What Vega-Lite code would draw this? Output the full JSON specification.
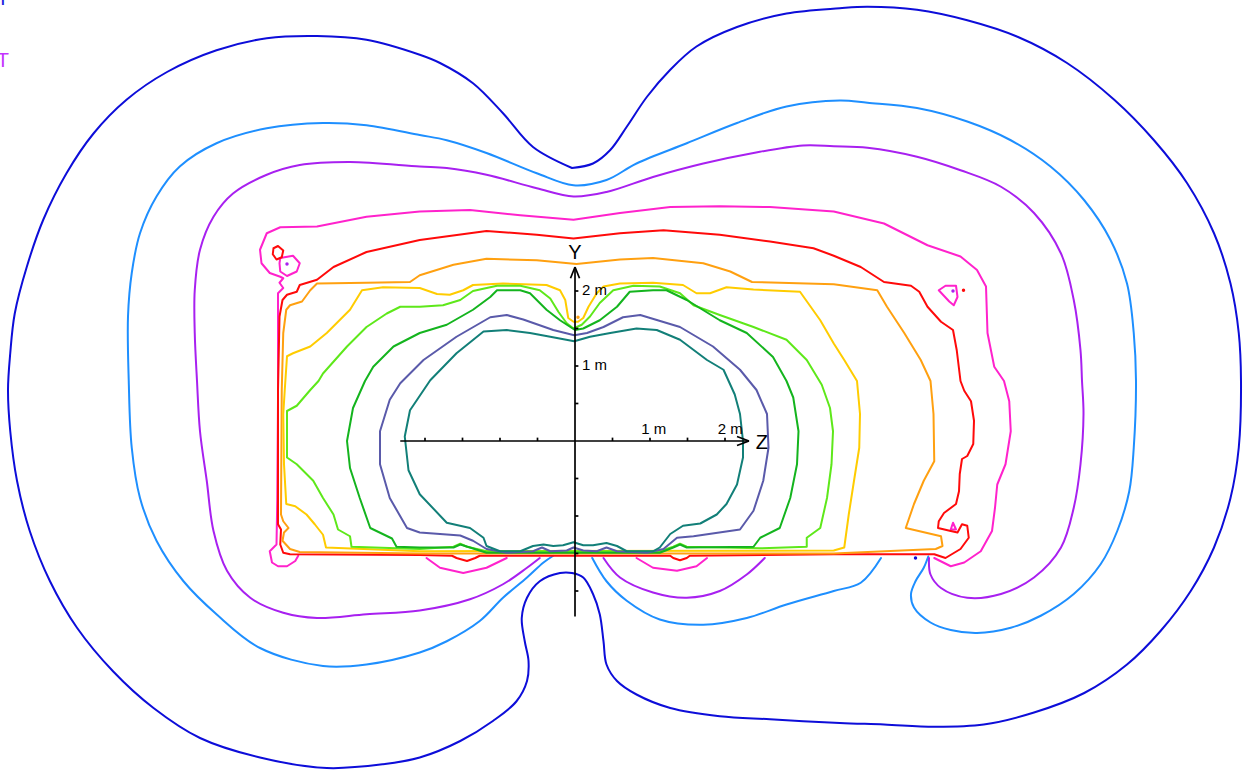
{
  "$schema": "https://vega.github.io/schema/vega-lite/v6.json",
  "width": 1254,
  "height": 771,
  "padding": 0,
  "autosize": {"type": "none"},
  "background": "white",
  "config": {"view": {"stroke": null}},
  "datasets": {
    "lines": [
      {"s":"b","i":1,"z":-0.04,"y":3.64},{"s":"b","i":2,"z":-0.56,"y":3.92},{"s":"b","i":3,"z":-0.96,"y":4.37},{"s":"b","i":4,"z":-1.36,"y":4.77},{"s":"b","i":5,"z":-1.80,"y":5.04},{"s":"b","i":6,"z":-2.07,"y":5.15},{"s":"b","i":7,"z":-2.78,"y":5.35},{"s":"b","i":8,"z":-3.44,"y":5.40},{"s":"b","i":9,"z":-4.11,"y":5.37},{"s":"b","i":10,"z":-4.78,"y":5.21},{"s":"b","i":11,"z":-5.44,"y":4.92},{"s":"b","i":12,"z":-5.98,"y":4.55},{"s":"b","i":13,"z":-6.42,"y":4.10},{"s":"b","i":14,"z":-6.78,"y":3.57},{"s":"b","i":15,"z":-7.09,"y":2.95},{"s":"b","i":16,"z":-7.31,"y":2.32},{"s":"b","i":17,"z":-7.47,"y":1.70},{"s":"b","i":18,"z":-7.53,"y":1.17},{"s":"b","i":19,"z":-7.56,"y":0.68},{"s":"b","i":20,"z":-7.53,"y":0.13},{"s":"b","i":21,"z":-7.44,"y":-0.53},{"s":"b","i":22,"z":-7.27,"y":-1.20},{"s":"b","i":23,"z":-7.00,"y":-1.87},{"s":"b","i":24,"z":-6.64,"y":-2.49},{"s":"b","i":25,"z":-6.16,"y":-3.07},{"s":"b","i":26,"z":-5.62,"y":-3.56},{"s":"b","i":27,"z":-5.00,"y":-3.96},{"s":"b","i":28,"z":-4.20,"y":-4.22},{"s":"b","i":29,"z":-3.31,"y":-4.36},{"s":"b","i":30,"z":-2.56,"y":-4.31},{"s":"b","i":31,"z":-2.07,"y":-4.22},{"s":"b","i":32,"z":-1.53,"y":-4.00},{"s":"b","i":33,"z":-1.09,"y":-3.73},{"s":"b","i":34,"z":-0.78,"y":-3.47},{"s":"b","i":35,"z":-0.64,"y":-3.20},{"s":"b","i":36,"z":-0.62,"y":-2.93},{"s":"b","i":37,"z":-0.67,"y":-2.67},{"s":"b","i":38,"z":-0.71,"y":-2.36},{"s":"b","i":39,"z":-0.64,"y":-2.09},{"s":"b","i":40,"z":-0.47,"y":-1.87},{"s":"b","i":41,"z":-0.20,"y":-1.76},{"s":"b","i":42,"z":-0.04,"y":-1.76},{"s":"b","i":43,"z":0.11,"y":-1.82},{"s":"b","i":44,"z":0.24,"y":-2.04},{"s":"b","i":45,"z":0.33,"y":-2.31},{"s":"b","i":46,"z":0.38,"y":-2.67},{"s":"b","i":47,"z":0.42,"y":-2.98},{"s":"b","i":48,"z":0.56,"y":-3.20},{"s":"b","i":49,"z":0.82,"y":-3.38},{"s":"b","i":50,"z":1.27,"y":-3.56},{"s":"b","i":51,"z":1.93,"y":-3.67},{"s":"b","i":52,"z":2.60,"y":-3.71},{"s":"b","i":53,"z":3.53,"y":-3.76},{"s":"b","i":54,"z":4.12,"y":-3.78},{"s":"b","i":55,"z":4.79,"y":-3.81},{"s":"b","i":56,"z":5.45,"y":-3.78},{"s":"b","i":57,"z":6.12,"y":-3.62},{"s":"b","i":58,"z":6.79,"y":-3.36},{"s":"b","i":59,"z":7.36,"y":-2.98},{"s":"b","i":60,"z":7.81,"y":-2.53},{"s":"b","i":61,"z":8.21,"y":-2.00},{"s":"b","i":62,"z":8.52,"y":-1.42},{"s":"b","i":63,"z":8.74,"y":-0.76},{"s":"b","i":64,"z":8.85,"y":-0.09},{"s":"b","i":65,"z":8.88,"y":0.80},{"s":"b","i":66,"z":8.85,"y":1.44},{"s":"b","i":67,"z":8.74,"y":2.10},{"s":"b","i":68,"z":8.52,"y":2.77},{"s":"b","i":69,"z":8.16,"y":3.44},{"s":"b","i":70,"z":7.72,"y":4.01},{"s":"b","i":71,"z":7.19,"y":4.55},{"s":"b","i":72,"z":6.56,"y":5.04},{"s":"b","i":73,"z":5.90,"y":5.39},{"s":"b","i":74,"z":5.23,"y":5.61},{"s":"b","i":75,"z":4.56,"y":5.75},{"s":"b","i":76,"z":3.90,"y":5.79},{"s":"b","i":77,"z":3.53,"y":5.77},{"s":"b","i":78,"z":2.82,"y":5.70},{"s":"b","i":79,"z":2.16,"y":5.52},{"s":"b","i":80,"z":1.62,"y":5.26},{"s":"b","i":81,"z":1.27,"y":4.95},{"s":"b","i":82,"z":0.96,"y":4.59},{"s":"b","i":83,"z":0.69,"y":4.19},{"s":"b","i":84,"z":0.47,"y":3.88},{"s":"b","i":85,"z":0.24,"y":3.70},{"s":"b","i":86,"z":-0.04,"y":3.64},

      {"s":"lbA","i":1,"z":-0.29,"y":-1.53},{"s":"lbA","i":2,"z":-0.42,"y":-1.62},{"s":"lbA","i":3,"z":-0.64,"y":-1.82},{"s":"lbA","i":4,"z":-0.96,"y":-2.09},{"s":"lbA","i":5,"z":-1.27,"y":-2.40},{"s":"lbA","i":6,"z":-1.71,"y":-2.67},{"s":"lbA","i":7,"z":-2.07,"y":-2.82},{"s":"lbA","i":8,"z":-2.78,"y":-2.98},{"s":"lbA","i":9,"z":-3.36,"y":-3.00},{"s":"lbA","i":10,"z":-4.20,"y":-2.76},{"s":"lbA","i":11,"z":-4.78,"y":-2.31},{"s":"lbA","i":12,"z":-5.22,"y":-1.87},{"s":"lbA","i":13,"z":-5.58,"y":-1.33},{"s":"lbA","i":14,"z":-5.80,"y":-0.76},{"s":"lbA","i":15,"z":-5.91,"y":-0.09},{"s":"lbA","i":16,"z":-5.95,"y":0.80},{"s":"lbA","i":17,"z":-5.96,"y":1.66},{"s":"lbA","i":18,"z":-5.91,"y":2.24},{"s":"lbA","i":19,"z":-5.80,"y":2.77},{"s":"lbA","i":20,"z":-5.58,"y":3.26},{"s":"lbA","i":21,"z":-5.27,"y":3.66},{"s":"lbA","i":22,"z":-4.78,"y":3.97},{"s":"lbA","i":23,"z":-4.11,"y":4.17},{"s":"lbA","i":24,"z":-3.36,"y":4.24},{"s":"lbA","i":25,"z":-2.78,"y":4.21},{"s":"lbA","i":26,"z":-2.07,"y":4.08},{"s":"lbA","i":27,"z":-1.71,"y":4.01},{"s":"lbA","i":28,"z":-1.18,"y":3.84},{"s":"lbA","i":29,"z":-0.51,"y":3.57},{"s":"lbA","i":30,"z":-0.02,"y":3.41},{"s":"lbA","i":31,"z":0.42,"y":3.48},{"s":"lbA","i":32,"z":0.82,"y":3.70},{"s":"lbA","i":33,"z":1.49,"y":3.97},{"s":"lbA","i":34,"z":2.16,"y":4.24},{"s":"lbA","i":35,"z":2.82,"y":4.46},{"s":"lbA","i":36,"z":3.53,"y":4.54},{"s":"lbA","i":37,"z":3.90,"y":4.51},{"s":"lbA","i":38,"z":4.56,"y":4.44},{"s":"lbA","i":39,"z":5.23,"y":4.26},{"s":"lbA","i":40,"z":5.81,"y":4.01},{"s":"lbA","i":41,"z":6.34,"y":3.66},{"s":"lbA","i":42,"z":6.79,"y":3.21},{"s":"lbA","i":43,"z":7.14,"y":2.68},{"s":"lbA","i":44,"z":7.36,"y":2.10},{"s":"lbA","i":45,"z":7.45,"y":1.44},{"s":"lbA","i":46,"z":7.48,"y":0.80},{"s":"lbA","i":47,"z":7.45,"y":-0.09},{"s":"lbA","i":48,"z":7.39,"y":-0.67},{"s":"lbA","i":49,"z":7.23,"y":-1.20},{"s":"lbA","i":50,"z":7.01,"y":-1.64},{"s":"lbA","i":51,"z":6.65,"y":-2.04},{"s":"lbA","i":52,"z":6.21,"y":-2.33},{"s":"lbA","i":53,"z":5.81,"y":-2.49},{"s":"lbA","i":54,"z":5.36,"y":-2.56},{"s":"lbA","i":55,"z":5.01,"y":-2.52},{"s":"lbA","i":56,"z":4.74,"y":-2.42},{"s":"lbA","i":57,"z":4.52,"y":-2.22},{"s":"lbA","i":58,"z":4.48,"y":-2.04},{"s":"lbA","i":59,"z":4.54,"y":-1.87},{"s":"lbA","i":60,"z":4.65,"y":-1.69},{"s":"lbA","i":61,"z":4.71,"y":-1.54},

      {"s":"lbB","i":1,"z":0.23,"y":-1.56},{"s":"lbB","i":2,"z":0.42,"y":-1.87},{"s":"lbB","i":3,"z":0.69,"y":-2.13},{"s":"lbB","i":4,"z":1.13,"y":-2.38},{"s":"lbB","i":5,"z":1.71,"y":-2.45},{"s":"lbB","i":6,"z":2.29,"y":-2.36},{"s":"lbB","i":7,"z":2.82,"y":-2.18},{"s":"lbB","i":8,"z":3.45,"y":-2.00},{"s":"lbB","i":9,"z":3.81,"y":-1.89},{"s":"lbB","i":10,"z":4.08,"y":-1.56},

      {"s":"pA","i":1,"z":-0.47,"y":-1.56},{"s":"pA","i":2,"z":-0.64,"y":-1.69},{"s":"pA","i":3,"z":-0.96,"y":-1.91},{"s":"pA","i":4,"z":-1.40,"y":-2.11},{"s":"pA","i":5,"z":-2.07,"y":-2.26},{"s":"pA","i":6,"z":-2.78,"y":-2.31},{"s":"pA","i":7,"z":-3.44,"y":-2.36},{"s":"pA","i":8,"z":-3.89,"y":-2.29},{"s":"pA","i":9,"z":-4.33,"y":-2.09},{"s":"pA","i":10,"z":-4.64,"y":-1.73},{"s":"pA","i":11,"z":-4.82,"y":-1.20},{"s":"pA","i":12,"z":-4.91,"y":-0.53},{"s":"pA","i":13,"z":-5.00,"y":0.13},{"s":"pA","i":14,"z":-5.04,"y":0.80},{"s":"pA","i":15,"z":-5.07,"y":1.44},{"s":"pA","i":16,"z":-5.07,"y":2.01},{"s":"pA","i":17,"z":-5.00,"y":2.55},{"s":"pA","i":18,"z":-4.82,"y":2.99},{"s":"pA","i":19,"z":-4.56,"y":3.30},{"s":"pA","i":20,"z":-4.11,"y":3.55},{"s":"pA","i":21,"z":-3.67,"y":3.68},{"s":"pA","i":22,"z":-3.00,"y":3.72},{"s":"pA","i":23,"z":-2.07,"y":3.66},{"s":"pA","i":24,"z":-1.71,"y":3.64},{"s":"pA","i":25,"z":-1.18,"y":3.55},{"s":"pA","i":26,"z":-0.51,"y":3.37},{"s":"pA","i":27,"z":-0.02,"y":3.26},{"s":"pA","i":28,"z":0.42,"y":3.32},{"s":"pA","i":29,"z":1.04,"y":3.52},{"s":"pA","i":30,"z":1.71,"y":3.70},{"s":"pA","i":31,"z":2.38,"y":3.84},{"s":"pA","i":32,"z":3.04,"y":3.94},{"s":"pA","i":33,"z":3.45,"y":3.93},{"s":"pA","i":34,"z":3.90,"y":3.91},{"s":"pA","i":35,"z":4.56,"y":3.79},{"s":"pA","i":36,"z":5.14,"y":3.61},{"s":"pA","i":37,"z":5.68,"y":3.39},{"s":"pA","i":38,"z":6.12,"y":3.04},{"s":"pA","i":39,"z":6.48,"y":2.50},{"s":"pA","i":40,"z":6.65,"y":1.88},{"s":"pA","i":41,"z":6.74,"y":1.21},{"s":"pA","i":42,"z":6.76,"y":0.80},{"s":"pA","i":43,"z":6.78,"y":0.36},{"s":"pA","i":44,"z":6.74,"y":-0.31},{"s":"pA","i":45,"z":6.65,"y":-0.89},{"s":"pA","i":46,"z":6.48,"y":-1.42},{"s":"pA","i":47,"z":6.12,"y":-1.82},{"s":"pA","i":48,"z":5.68,"y":-2.04},{"s":"pA","i":49,"z":5.23,"y":-2.09},{"s":"pA","i":50,"z":4.88,"y":-1.96},{"s":"pA","i":51,"z":4.74,"y":-1.78},{"s":"pA","i":52,"z":4.72,"y":-1.56},

      {"s":"pB","i":1,"z":0.38,"y":-1.56},{"s":"pB","i":2,"z":0.60,"y":-1.82},{"s":"pB","i":3,"z":1.04,"y":-2.02},{"s":"pB","i":4,"z":1.49,"y":-2.09},{"s":"pB","i":5,"z":1.93,"y":-2.00},{"s":"pB","i":6,"z":2.29,"y":-1.78},{"s":"pB","i":7,"z":2.53,"y":-1.56},

      {"s":"mA","i":1,"z":-3.69,"y":-1.53},{"s":"mA","i":2,"z":-3.73,"y":-1.60},{"s":"mA","i":3,"z":-3.84,"y":-1.67},{"s":"mA","i":4,"z":-3.96,"y":-1.67},{"s":"mA","i":5,"z":-4.04,"y":-1.62},{"s":"mA","i":6,"z":-4.07,"y":-1.47},{"s":"mA","i":7,"z":-3.98,"y":-1.38},{"s":"mA","i":8,"z":-3.97,"y":-0.79},{"s":"mA","i":9,"z":-3.96,"y":0.55},{"s":"mA","i":10,"z":-3.96,"y":1.88},{"s":"mA","i":11,"z":-3.96,"y":1.97},{"s":"mA","i":12,"z":-3.89,"y":2.04},{"s":"mA","i":13,"z":-3.94,"y":2.11},{"s":"mA","i":14,"z":-3.89,"y":2.17},{"s":"mA","i":15,"z":-3.93,"y":2.19},{"s":"mA","i":16,"z":-4.07,"y":2.24},{"s":"mA","i":17,"z":-4.18,"y":2.37},{"s":"mA","i":18,"z":-4.20,"y":2.55},{"s":"mA","i":19,"z":-4.11,"y":2.77},{"s":"mA","i":20,"z":-3.93,"y":2.85},{"s":"mA","i":21,"z":-3.44,"y":2.86},{"s":"mA","i":22,"z":-2.78,"y":2.99},{"s":"mA","i":23,"z":-2.07,"y":3.06},{"s":"mA","i":24,"z":-1.40,"y":3.08},{"s":"mA","i":25,"z":-0.73,"y":3.01},{"s":"mA","i":26,"z":-0.02,"y":2.95},{"s":"mA","i":27,"z":0.60,"y":3.04},{"s":"mA","i":28,"z":1.27,"y":3.12},{"s":"mA","i":29,"z":1.93,"y":3.13},{"s":"mA","i":30,"z":2.60,"y":3.12},{"s":"mA","i":31,"z":3.45,"y":3.06},{"s":"mA","i":32,"z":4.12,"y":2.90},{"s":"mA","i":33,"z":4.70,"y":2.61},{"s":"mA","i":34,"z":5.14,"y":2.46},{"s":"mA","i":35,"z":5.36,"y":2.28},{"s":"mA","i":36,"z":5.48,"y":2.06},{"s":"mA","i":37,"z":5.50,"y":1.44},{"s":"mA","i":38,"z":5.59,"y":0.99},{"s":"mA","i":39,"z":5.72,"y":0.80},{"s":"mA","i":40,"z":5.79,"y":0.53},{"s":"mA","i":41,"z":5.81,"y":0.13},{"s":"mA","i":42,"z":5.74,"y":-0.31},{"s":"mA","i":43,"z":5.63,"y":-0.58},{"s":"mA","i":44,"z":5.60,"y":-0.89},{"s":"mA","i":45,"z":5.56,"y":-1.20},{"s":"mA","i":46,"z":5.41,"y":-1.47},{"s":"mA","i":47,"z":5.19,"y":-1.62},{"s":"mA","i":48,"z":5.01,"y":-1.67},{"s":"mA","i":49,"z":4.79,"y":-1.56},

      {"s":"mL","i":1,"z":-1.98,"y":-1.56},{"s":"mL","i":2,"z":-1.80,"y":-1.69},{"s":"mL","i":3,"z":-1.49,"y":-1.76},{"s":"mL","i":4,"z":-1.18,"y":-1.69},{"s":"mL","i":5,"z":-0.91,"y":-1.56},
      {"s":"mR","i":1,"z":0.82,"y":-1.56},{"s":"mR","i":2,"z":1.04,"y":-1.69},{"s":"mR","i":3,"z":1.36,"y":-1.73},{"s":"mR","i":4,"z":1.62,"y":-1.67},{"s":"mR","i":5,"z":1.76,"y":-1.56},
      {"s":"mT1","i":1,"z":-3.93,"y":2.44},{"s":"mT1","i":2,"z":-3.76,"y":2.47},{"s":"mT1","i":3,"z":-3.67,"y":2.37},{"s":"mT1","i":4,"z":-3.71,"y":2.26},{"s":"mT1","i":5,"z":-3.84,"y":2.20},{"s":"mT1","i":6,"z":-3.93,"y":2.26},{"s":"mT1","i":7,"z":-3.94,"y":2.37},{"s":"mT1","i":8,"z":-3.93,"y":2.44},
      {"s":"mT2","i":1,"z":4.85,"y":2.01},{"s":"mT2","i":2,"z":4.94,"y":2.07},{"s":"mT2","i":3,"z":5.08,"y":2.07},{"s":"mT2","i":4,"z":5.10,"y":1.92},{"s":"mT2","i":5,"z":5.05,"y":1.81},{"s":"mT2","i":6,"z":4.99,"y":1.86},{"s":"mT2","i":7,"z":4.85,"y":2.01},
      {"s":"mT3","i":1,"z":5.01,"y":-1.18},{"s":"mT3","i":2,"z":5.04,"y":-1.09},{"s":"mT3","i":3,"z":5.08,"y":-1.18},{"s":"mT3","i":4,"z":5.01,"y":-1.18},

      {"s":"rL","i":1,"z":-4.02,"y":2.57},{"s":"rL","i":2,"z":-3.96,"y":2.60},{"s":"rL","i":3,"z":-3.89,"y":2.54},{"s":"rL","i":4,"z":-3.91,"y":2.45},{"s":"rL","i":5,"z":-3.98,"y":2.42},{"s":"rL","i":6,"z":-4.03,"y":2.49},{"s":"rL","i":7,"z":-4.02,"y":2.57},

      {"s":"rA","i":1,"z":-0.02,"y":2.70},{"s":"rA","i":2,"z":-0.51,"y":2.75},{"s":"rA","i":3,"z":-1.18,"y":2.80},{"s":"rA","i":4,"z":-2.07,"y":2.68},{"s":"rA","i":5,"z":-2.78,"y":2.52},{"s":"rA","i":6,"z":-3.22,"y":2.32},{"s":"rA","i":7,"z":-3.44,"y":2.15},{"s":"rA","i":8,"z":-3.67,"y":2.08},{"s":"rA","i":9,"z":-3.71,"y":1.99},{"s":"rA","i":10,"z":-3.84,"y":1.95},{"s":"rA","i":11,"z":-3.90,"y":1.88},{"s":"rA","i":12,"z":-3.94,"y":1.66},{"s":"rA","i":13,"z":-3.96,"y":0.68},{"s":"rA","i":14,"z":-3.96,"y":-1.11},{"s":"rA","i":15,"z":-3.92,"y":-1.18},{"s":"rA","i":16,"z":-3.93,"y":-1.38},{"s":"rA","i":17,"z":-3.89,"y":-1.49},{"s":"rA","i":18,"z":-3.80,"y":-1.51},{"s":"rA","i":19,"z":-2.07,"y":-1.52},{"s":"rA","i":20,"z":-1.64,"y":-1.53},{"s":"rA","i":21,"z":-1.58,"y":-1.56},{"s":"rA","i":22,"z":-1.44,"y":-1.60},{"s":"rA","i":23,"z":-1.33,"y":-1.56},{"s":"rA","i":24,"z":-1.27,"y":-1.53},{"s":"rA","i":25,"z":1.27,"y":-1.53},{"s":"rA","i":26,"z":1.31,"y":-1.56},{"s":"rA","i":27,"z":1.40,"y":-1.59},{"s":"rA","i":28,"z":1.49,"y":-1.56},{"s":"rA","i":29,"z":1.53,"y":-1.53},{"s":"rA","i":30,"z":3.45,"y":-1.51},{"s":"rA","i":31,"z":4.79,"y":-1.51},{"s":"rA","i":32,"z":4.94,"y":-1.56},{"s":"rA","i":33,"z":5.14,"y":-1.44},{"s":"rA","i":34,"z":5.25,"y":-1.29},{"s":"rA","i":35,"z":5.23,"y":-1.13},{"s":"rA","i":36,"z":5.16,"y":-1.11},{"s":"rA","i":37,"z":5.10,"y":-1.22},{"s":"rA","i":38,"z":5.01,"y":-1.20},{"s":"rA","i":39,"z":4.84,"y":-1.16},{"s":"rA","i":40,"z":4.85,"y":-1.07},{"s":"rA","i":41,"z":4.92,"y":-0.96},{"s":"rA","i":42,"z":5.08,"y":-0.84},{"s":"rA","i":43,"z":5.12,"y":-0.67},{"s":"rA","i":44,"z":5.13,"y":-0.44},{"s":"rA","i":45,"z":5.16,"y":-0.24},{"s":"rA","i":46,"z":5.23,"y":-0.20},{"s":"rA","i":47,"z":5.31,"y":-0.04},{"s":"rA","i":48,"z":5.32,"y":0.27},{"s":"rA","i":49,"z":5.28,"y":0.53},{"s":"rA","i":50,"z":5.19,"y":0.67},{"s":"rA","i":51,"z":5.14,"y":0.80},{"s":"rA","i":52,"z":5.09,"y":1.21},{"s":"rA","i":53,"z":5.04,"y":1.48},{"s":"rA","i":54,"z":4.88,"y":1.59},{"s":"rA","i":55,"z":4.70,"y":1.79},{"s":"rA","i":56,"z":4.59,"y":1.99},{"s":"rA","i":57,"z":4.48,"y":2.07},{"s":"rA","i":58,"z":4.12,"y":2.12},{"s":"rA","i":59,"z":3.81,"y":2.32},{"s":"rA","i":60,"z":3.45,"y":2.47},{"s":"rA","i":61,"z":3.18,"y":2.57},{"s":"rA","i":62,"z":2.60,"y":2.66},{"s":"rA","i":63,"z":1.93,"y":2.75},{"s":"rA","i":64,"z":1.18,"y":2.81},{"s":"rA","i":65,"z":0.60,"y":2.77},{"s":"rA","i":66,"z":-0.02,"y":2.70},

      {"s":"o","i":1,"z":0.02,"y":2.36},{"s":"o","i":2,"z":-0.51,"y":2.41},{"s":"o","i":3,"z":-1.18,"y":2.43},{"s":"o","i":4,"z":-1.62,"y":2.35},{"s":"o","i":5,"z":-2.07,"y":2.21},{"s":"o","i":6,"z":-2.20,"y":2.12},{"s":"o","i":7,"z":-2.78,"y":2.11},{"s":"o","i":8,"z":-3.44,"y":2.10},{"s":"o","i":9,"z":-3.53,"y":2.01},{"s":"o","i":10,"z":-3.64,"y":1.86},{"s":"o","i":11,"z":-3.80,"y":1.81},{"s":"o","i":12,"z":-3.85,"y":1.75},{"s":"o","i":13,"z":-3.89,"y":1.44},{"s":"o","i":14,"z":-3.91,"y":0.68},{"s":"o","i":15,"z":-3.92,"y":-0.98},{"s":"o","i":16,"z":-3.89,"y":-1.07},{"s":"o","i":17,"z":-3.82,"y":-1.16},{"s":"o","i":18,"z":-3.88,"y":-1.22},{"s":"o","i":19,"z":-3.90,"y":-1.33},{"s":"o","i":20,"z":-3.80,"y":-1.44},{"s":"o","i":21,"z":-3.67,"y":-1.48},{"s":"o","i":22,"z":-2.07,"y":-1.50},{"s":"o","i":23,"z":3.45,"y":-1.50},{"s":"o","i":24,"z":4.81,"y":-1.44},{"s":"o","i":25,"z":4.90,"y":-1.40},{"s":"o","i":26,"z":4.88,"y":-1.27},{"s":"o","i":27,"z":4.41,"y":-1.16},{"s":"o","i":28,"z":4.52,"y":-0.84},{"s":"o","i":29,"z":4.65,"y":-0.53},{"s":"o","i":30,"z":4.79,"y":-0.27},{"s":"o","i":31,"z":4.78,"y":0.36},{"s":"o","i":32,"z":4.74,"y":0.80},{"s":"o","i":33,"z":4.61,"y":1.08},{"s":"o","i":34,"z":4.39,"y":1.44},{"s":"o","i":35,"z":4.16,"y":1.79},{"s":"o","i":36,"z":4.03,"y":2.01},{"s":"o","i":37,"z":3.45,"y":2.09},{"s":"o","i":38,"z":2.36,"y":2.12},{"s":"o","i":39,"z":2.07,"y":2.26},{"s":"o","i":40,"z":1.71,"y":2.37},{"s":"o","i":41,"z":1.04,"y":2.44},{"s":"o","i":42,"z":0.60,"y":2.42},{"s":"o","i":43,"z":0.02,"y":2.36},

      {"s":"yw","i":1,"z":-0.02,"y":1.59},{"s":"yw","i":2,"z":-0.09,"y":1.64},{"s":"yw","i":3,"z":-0.13,"y":1.88},{"s":"yw","i":4,"z":-0.20,"y":2.01},{"s":"yw","i":5,"z":-0.38,"y":2.08},{"s":"yw","i":6,"z":-0.96,"y":2.10},{"s":"yw","i":7,"z":-1.36,"y":2.08},{"s":"yw","i":8,"z":-1.49,"y":2.01},{"s":"yw","i":9,"z":-1.67,"y":1.95},{"s":"yw","i":10,"z":-1.84,"y":1.96},{"s":"yw","i":11,"z":-2.07,"y":2.04},{"s":"yw","i":12,"z":-2.56,"y":2.05},{"s":"yw","i":13,"z":-2.84,"y":2.01},{"s":"yw","i":14,"z":-3.00,"y":1.75},{"s":"yw","i":15,"z":-3.31,"y":1.44},{"s":"yw","i":16,"z":-3.53,"y":1.26},{"s":"yw","i":17,"z":-3.76,"y":1.17},{"s":"yw","i":18,"z":-3.84,"y":1.13},{"s":"yw","i":19,"z":-3.87,"y":0.68},{"s":"yw","i":20,"z":-3.89,"y":0.36},{"s":"yw","i":21,"z":-3.88,"y":-0.31},{"s":"yw","i":22,"z":-3.85,"y":-0.84},{"s":"yw","i":23,"z":-3.73,"y":-0.87},{"s":"yw","i":24,"z":-3.58,"y":-0.98},{"s":"yw","i":25,"z":-3.47,"y":-1.11},{"s":"yw","i":26,"z":-3.36,"y":-1.25},{"s":"yw","i":27,"z":-3.32,"y":-1.42},{"s":"yw","i":28,"z":-2.07,"y":-1.47},{"s":"yw","i":29,"z":3.45,"y":-1.46},{"s":"yw","i":30,"z":3.59,"y":-1.42},{"s":"yw","i":31,"z":3.65,"y":-0.98},{"s":"yw","i":32,"z":3.72,"y":-0.53},{"s":"yw","i":33,"z":3.79,"y":-0.09},{"s":"yw","i":34,"z":3.80,"y":0.36},{"s":"yw","i":35,"z":3.76,"y":0.80},{"s":"yw","i":36,"z":3.59,"y":1.08},{"s":"yw","i":37,"z":3.45,"y":1.30},{"s":"yw","i":38,"z":3.27,"y":1.61},{"s":"yw","i":39,"z":3.00,"y":1.99},{"s":"yw","i":40,"z":2.38,"y":2.02},{"s":"yw","i":41,"z":2.02,"y":2.05},{"s":"yw","i":42,"z":1.80,"y":1.97},{"s":"yw","i":43,"z":1.62,"y":1.97},{"s":"yw","i":44,"z":1.44,"y":2.08},{"s":"yw","i":45,"z":1.04,"y":2.11},{"s":"yw","i":46,"z":0.60,"y":2.10},{"s":"yw","i":47,"z":0.38,"y":2.06},{"s":"yw","i":48,"z":0.29,"y":1.97},{"s":"yw","i":49,"z":0.18,"y":1.79},{"s":"yw","i":50,"z":0.11,"y":1.64},{"s":"yw","i":51,"z":0.04,"y":1.59},{"s":"yw","i":52,"z":-0.02,"y":1.59},

      {"s":"lg","i":1,"z":-0.02,"y":1.50},{"s":"lg","i":2,"z":-0.11,"y":1.57},{"s":"lg","i":3,"z":-0.22,"y":1.72},{"s":"lg","i":4,"z":-0.33,"y":1.90},{"s":"lg","i":5,"z":-0.47,"y":2.01},{"s":"lg","i":6,"z":-0.73,"y":2.07},{"s":"lg","i":7,"z":-1.04,"y":2.07},{"s":"lg","i":8,"z":-1.36,"y":2.00},{"s":"lg","i":9,"z":-1.53,"y":1.88},{"s":"lg","i":10,"z":-1.76,"y":1.81},{"s":"lg","i":11,"z":-2.07,"y":1.79},{"s":"lg","i":12,"z":-2.33,"y":1.79},{"s":"lg","i":13,"z":-2.51,"y":1.70},{"s":"lg","i":14,"z":-2.78,"y":1.52},{"s":"lg","i":15,"z":-3.04,"y":1.26},{"s":"lg","i":16,"z":-3.36,"y":0.90},{"s":"lg","i":17,"z":-3.42,"y":0.80},{"s":"lg","i":18,"z":-3.53,"y":0.68},{"s":"lg","i":19,"z":-3.71,"y":0.47},{"s":"lg","i":20,"z":-3.84,"y":0.40},{"s":"lg","i":21,"z":-3.84,"y":-0.22},{"s":"lg","i":22,"z":-3.71,"y":-0.31},{"s":"lg","i":23,"z":-3.49,"y":-0.53},{"s":"lg","i":24,"z":-3.36,"y":-0.76},{"s":"lg","i":25,"z":-3.22,"y":-0.98},{"s":"lg","i":26,"z":-3.16,"y":-1.18},{"s":"lg","i":27,"z":-3.00,"y":-1.27},{"s":"lg","i":28,"z":-2.98,"y":-1.41},{"s":"lg","i":29,"z":-2.07,"y":-1.44},{"s":"lg","i":30,"z":-1.62,"y":-1.41},{"s":"lg","i":31,"z":-1.53,"y":-1.37},{"s":"lg","i":32,"z":-1.44,"y":-1.41},{"s":"lg","i":33,"z":-1.18,"y":-1.47},{"s":"lg","i":34,"z":-0.02,"y":-1.47},{"s":"lg","i":35,"z":1.13,"y":-1.47},{"s":"lg","i":36,"z":1.31,"y":-1.41},{"s":"lg","i":37,"z":1.40,"y":-1.37},{"s":"lg","i":38,"z":1.49,"y":-1.41},{"s":"lg","i":39,"z":2.47,"y":-1.43},{"s":"lg","i":40,"z":3.09,"y":-1.41},{"s":"lg","i":41,"z":3.09,"y":-1.29},{"s":"lg","i":42,"z":3.27,"y":-1.16},{"s":"lg","i":43,"z":3.36,"y":-0.76},{"s":"lg","i":44,"z":3.42,"y":-0.31},{"s":"lg","i":45,"z":3.44,"y":0.13},{"s":"lg","i":46,"z":3.40,"y":0.44},{"s":"lg","i":47,"z":3.29,"y":0.75},{"s":"lg","i":48,"z":3.09,"y":1.08},{"s":"lg","i":49,"z":2.82,"y":1.35},{"s":"lg","i":50,"z":2.38,"y":1.52},{"s":"lg","i":51,"z":1.93,"y":1.68},{"s":"lg","i":52,"z":1.58,"y":1.81},{"s":"lg","i":53,"z":1.40,"y":1.97},{"s":"lg","i":54,"z":1.13,"y":2.06},{"s":"lg","i":55,"z":0.78,"y":2.07},{"s":"lg","i":56,"z":0.51,"y":2.01},{"s":"lg","i":57,"z":0.33,"y":1.84},{"s":"lg","i":58,"z":0.20,"y":1.66},{"s":"lg","i":59,"z":0.09,"y":1.55},{"s":"lg","i":60,"z":-0.02,"y":1.50},

      {"s":"g","i":1,"z":0.00,"y":1.48},{"s":"g","i":2,"z":-0.20,"y":1.61},{"s":"g","i":3,"z":-0.38,"y":1.75},{"s":"g","i":4,"z":-0.60,"y":1.97},{"s":"g","i":5,"z":-0.73,"y":2.01},{"s":"g","i":6,"z":-1.04,"y":2.01},{"s":"g","i":7,"z":-1.13,"y":1.92},{"s":"g","i":8,"z":-1.36,"y":1.75},{"s":"g","i":9,"z":-1.71,"y":1.55},{"s":"g","i":10,"z":-2.07,"y":1.44},{"s":"g","i":11,"z":-2.42,"y":1.26},{"s":"g","i":12,"z":-2.69,"y":0.99},{"s":"g","i":13,"z":-2.80,"y":0.80},{"s":"g","i":14,"z":-2.96,"y":0.44},{"s":"g","i":15,"z":-3.04,"y":0.00},{"s":"g","i":16,"z":-3.00,"y":-0.36},{"s":"g","i":17,"z":-2.87,"y":-0.76},{"s":"g","i":18,"z":-2.73,"y":-1.16},{"s":"g","i":19,"z":-2.44,"y":-1.30},{"s":"g","i":20,"z":-2.38,"y":-1.41},{"s":"g","i":21,"z":-2.07,"y":-1.42},{"s":"g","i":22,"z":-1.62,"y":-1.42},{"s":"g","i":23,"z":-1.53,"y":-1.38},{"s":"g","i":24,"z":-1.40,"y":-1.42},{"s":"g","i":25,"z":-1.18,"y":-1.49},{"s":"g","i":26,"z":-0.02,"y":-1.49},{"s":"g","i":27,"z":1.13,"y":-1.49},{"s":"g","i":28,"z":1.31,"y":-1.42},{"s":"g","i":29,"z":1.40,"y":-1.38},{"s":"g","i":30,"z":1.49,"y":-1.42},{"s":"g","i":31,"z":2.38,"y":-1.41},{"s":"g","i":32,"z":2.47,"y":-1.29},{"s":"g","i":33,"z":2.73,"y":-1.16},{"s":"g","i":34,"z":2.87,"y":-0.76},{"s":"g","i":35,"z":2.96,"y":-0.31},{"s":"g","i":36,"z":2.98,"y":0.13},{"s":"g","i":37,"z":2.91,"y":0.58},{"s":"g","i":38,"z":2.82,"y":0.80},{"s":"g","i":39,"z":2.64,"y":1.12},{"s":"g","i":40,"z":2.29,"y":1.44},{"s":"g","i":41,"z":1.93,"y":1.61},{"s":"g","i":42,"z":1.49,"y":1.88},{"s":"g","i":43,"z":1.22,"y":2.01},{"s":"g","i":44,"z":1.04,"y":2.01},{"s":"g","i":45,"z":0.73,"y":1.99},{"s":"g","i":46,"z":0.56,"y":1.79},{"s":"g","i":47,"z":0.33,"y":1.61},{"s":"g","i":48,"z":0.11,"y":1.50},{"s":"g","i":49,"z":0.00,"y":1.48},

      {"s":"sl","i":1,"z":-0.01,"y":1.41},{"s":"sl","i":2,"z":-0.29,"y":1.48},{"s":"sl","i":3,"z":-0.69,"y":1.62},{"s":"sl","i":4,"z":-0.91,"y":1.68},{"s":"sl","i":5,"z":-1.13,"y":1.65},{"s":"sl","i":6,"z":-1.58,"y":1.39},{"s":"sl","i":7,"z":-2.02,"y":1.08},{"s":"sl","i":8,"z":-2.33,"y":0.77},{"s":"sl","i":9,"z":-2.47,"y":0.55},{"s":"sl","i":10,"z":-2.60,"y":0.13},{"s":"sl","i":11,"z":-2.60,"y":-0.31},{"s":"sl","i":12,"z":-2.47,"y":-0.76},{"s":"sl","i":13,"z":-2.24,"y":-1.16},{"s":"sl","i":14,"z":-2.07,"y":-1.22},{"s":"sl","i":15,"z":-1.53,"y":-1.26},{"s":"sl","i":16,"z":-1.36,"y":-1.33},{"s":"sl","i":17,"z":-1.18,"y":-1.44},{"s":"sl","i":18,"z":-0.91,"y":-1.49},{"s":"sl","i":19,"z":-0.56,"y":-1.47},{"s":"sl","i":20,"z":-0.44,"y":-1.42},{"s":"sl","i":21,"z":-0.33,"y":-1.47},{"s":"sl","i":22,"z":-0.11,"y":-1.46},{"s":"sl","i":23,"z":-0.02,"y":-1.42},{"s":"sl","i":24,"z":0.11,"y":-1.46},{"s":"sl","i":25,"z":0.29,"y":-1.47},{"s":"sl","i":26,"z":0.42,"y":-1.42},{"s":"sl","i":27,"z":0.56,"y":-1.47},{"s":"sl","i":28,"z":0.96,"y":-1.49},{"s":"sl","i":29,"z":1.18,"y":-1.44},{"s":"sl","i":30,"z":1.36,"y":-1.29},{"s":"sl","i":31,"z":1.58,"y":-1.27},{"s":"sl","i":32,"z":2.20,"y":-1.18},{"s":"sl","i":33,"z":2.38,"y":-0.93},{"s":"sl","i":34,"z":2.51,"y":-0.53},{"s":"sl","i":35,"z":2.58,"y":-0.09},{"s":"sl","i":36,"z":2.56,"y":0.36},{"s":"sl","i":37,"z":2.42,"y":0.68},{"s":"sl","i":38,"z":2.20,"y":0.95},{"s":"sl","i":39,"z":1.84,"y":1.26},{"s":"sl","i":40,"z":1.40,"y":1.52},{"s":"sl","i":41,"z":0.87,"y":1.68},{"s":"sl","i":42,"z":0.64,"y":1.65},{"s":"sl","i":43,"z":0.38,"y":1.52},{"s":"sl","i":44,"z":0.16,"y":1.44},{"s":"sl","i":45,"z":-0.01,"y":1.41},

      {"s":"t","i":1,"z":-0.01,"y":1.33},{"s":"t","i":2,"z":-0.33,"y":1.39},{"s":"t","i":3,"z":-0.60,"y":1.44},{"s":"t","i":4,"z":-0.91,"y":1.48},{"s":"t","i":5,"z":-1.22,"y":1.46},{"s":"t","i":6,"z":-1.58,"y":1.17},{"s":"t","i":7,"z":-1.93,"y":0.81},{"s":"t","i":8,"z":-2.20,"y":0.41},{"s":"t","i":9,"z":-2.27,"y":0.06},{"s":"t","i":10,"z":-2.22,"y":-0.39},{"s":"t","i":11,"z":-2.07,"y":-0.71},{"s":"t","i":12,"z":-1.71,"y":-1.09},{"s":"t","i":13,"z":-1.40,"y":-1.16},{"s":"t","i":14,"z":-1.22,"y":-1.29},{"s":"t","i":15,"z":-1.18,"y":-1.40},{"s":"t","i":16,"z":-1.00,"y":-1.47},{"s":"t","i":17,"z":-0.73,"y":-1.47},{"s":"t","i":18,"z":-0.56,"y":-1.40},{"s":"t","i":19,"z":-0.42,"y":-1.38},{"s":"t","i":20,"z":-0.29,"y":-1.40},{"s":"t","i":21,"z":-0.16,"y":-1.39},{"s":"t","i":22,"z":-0.02,"y":-1.35},{"s":"t","i":23,"z":0.11,"y":-1.39},{"s":"t","i":24,"z":0.24,"y":-1.39},{"s":"t","i":25,"z":0.42,"y":-1.36},{"s":"t","i":26,"z":0.56,"y":-1.40},{"s":"t","i":27,"z":0.69,"y":-1.47},{"s":"t","i":28,"z":1.04,"y":-1.47},{"s":"t","i":29,"z":1.13,"y":-1.42},{"s":"t","i":30,"z":1.27,"y":-1.24},{"s":"t","i":31,"z":1.44,"y":-1.13},{"s":"t","i":32,"z":1.67,"y":-1.10},{"s":"t","i":33,"z":1.89,"y":-0.98},{"s":"t","i":34,"z":2.02,"y":-0.84},{"s":"t","i":35,"z":2.16,"y":-0.58},{"s":"t","i":36,"z":2.24,"y":-0.22},{"s":"t","i":37,"z":2.24,"y":0.00},{"s":"t","i":38,"z":2.20,"y":0.36},{"s":"t","i":39,"z":2.13,"y":0.62},{"s":"t","i":40,"z":1.98,"y":0.95},{"s":"t","i":41,"z":1.76,"y":1.08},{"s":"t","i":42,"z":1.40,"y":1.35},{"s":"t","i":43,"z":1.09,"y":1.48},{"s":"t","i":44,"z":0.82,"y":1.50},{"s":"t","i":45,"z":0.47,"y":1.44},{"s":"t","i":46,"z":0.20,"y":1.39},{"s":"t","i":47,"z":-0.01,"y":1.33}
    ],
    "dots": [
      {"s":"pA","z":-3.84,"y":2.36},{"s":"pA","z":5.04,"y":2.00},{"s":"rA","z":5.18,"y":2.01},{"s":"o","z":0.04,"y":1.65},{"s":"b","z":4.54,"y":-1.56}
    ],
    "axes": [
      {"z":-2.33,"y":0,"z2":2.32,"y2":0},{"z":0,"y":-2.34,"z2":0,"y2":2.32},
      {"z":2.16,"y":0.06,"z2":2.32,"y2":0},{"z":2.16,"y":-0.06,"z2":2.32,"y2":0},
      {"z":-0.06,"y":2.17,"z2":0,"y2":2.32},{"z":0.06,"y":2.17,"z2":0,"y2":2.32},
      {"z":-2,"y":0,"z2":-2,"y2":0.045},{"z":-1.5,"y":0,"z2":-1.5,"y2":0.045},{"z":-1,"y":0,"z2":-1,"y2":0.045},{"z":-0.5,"y":0,"z2":-0.5,"y2":0.045},{"z":0.5,"y":0,"z2":0.5,"y2":0.045},{"z":1,"y":0,"z2":1,"y2":0.045},{"z":1.5,"y":0,"z2":1.5,"y2":0.045},{"z":2,"y":0,"z2":2,"y2":0.045},
      {"z":0,"y":-2,"z2":0.045,"y2":-2},{"z":0,"y":-1.5,"z2":0.045,"y2":-1.5},{"z":0,"y":-1,"z2":0.045,"y2":-1},{"z":0,"y":-0.5,"z2":0.045,"y2":-0.5},{"z":0,"y":0.5,"z2":0.045,"y2":0.5},{"z":0,"y":1,"z2":0.045,"y2":1},{"z":0,"y":1.5,"z2":0.045,"y2":1.5},{"z":0,"y":2,"z2":0.045,"y2":2}
    ],
    "letters": [
      {"t":"Y","z":0.0,"y":2.51},{"t":"Z","z":2.49,"y":-0.02}
    ],
    "ticklabels": [
      {"t":"2 m","z":0.26,"y":2.01},{"t":"1 m","z":0.26,"y":1.01},{"t":"1 m","z":1.05,"y":0.16},{"t":"2 m","z":2.07,"y":0.16}
    ]
  },
  "encoding": {
    "x": {"field": "z", "type": "quantitative", "axis": null, "scale": {"domain": [-7.6667, 9.0533], "nice": false, "zero": false}},
    "y": {"field": "y", "type": "quantitative", "axis": null, "scale": {"domain": [-4.4, 5.88], "nice": false, "zero": false}}
  },
  "layer": [
    {
      "data": {"name": "lines"},
      "transform": [{"filter": {"field": "s", "oneOf": ["b", "lbA", "lbB", "pA", "pB"]}}],
      "mark": {"type": "line", "strokeWidth": 2, "strokeJoin": "round", "strokeCap": "round", "interpolate": "catmull-rom"},
      "encoding": {
        "color": {
          "field": "s", "type": "nominal", "legend": null,
          "scale": {
            "domain": ["b","lbA","lbB","pA","pB","mA","mL","mR","mT1","mT2","mT3","rL","rA","o","yw","lg","g","sl","t"],
            "range": ["#0d0dd9","#1e8fff","#1e8fff","#a820f0","#a820f0","#ff22cc","#ff22cc","#ff22cc","#ff22cc","#ff22cc","#ff22cc","#ff0a0a","#ff0a0a","#ffa010","#ffcc00","#5ee81a","#14b41e","#5a5aaa","#127f78"]
          }
        },
        "order": {"field": "i", "type": "quantitative"}
      }
    },
    {
      "data": {"name": "lines"},
      "transform": [{"filter": {"not": {"field": "s", "oneOf": ["b", "lbA", "lbB", "pA", "pB"]}}}],
      "mark": {"type": "line", "strokeWidth": 2, "strokeJoin": "round", "strokeCap": "round"},
      "encoding": {
        "color": {"field": "s", "type": "nominal", "legend": null},
        "order": {"field": "i", "type": "quantitative"}
      }
    },
    {
      "data": {"name": "dots"},
      "mark": {"type": "circle", "size": 12, "opacity": 1},
      "encoding": {
        "color": {"field": "s", "type": "nominal", "legend": null}
      }
    },
    {
      "data": {"name": "axes"},
      "mark": {"type": "rule", "color": "black", "strokeWidth": 1.7},
      "encoding": {
        "x2": {"field": "z2"},
        "y2": {"field": "y2"}
      }
    },
    {
      "data": {"name": "letters"},
      "mark": {"type": "text", "font": "Liberation Sans", "fontSize": 20, "color": "black", "align": "center", "baseline": "middle"},
      "encoding": {"text": {"field": "t"}}
    },
    {
      "data": {"name": "ticklabels"},
      "mark": {"type": "text", "font": "Liberation Sans", "fontSize": 15, "color": "black", "align": "center", "baseline": "middle"},
      "encoding": {"text": {"field": "t"}}
    },
    {
      "data": {"values": [{"t": "T", "z": -7.63, "y": 5.89}]},
      "mark": {"type": "text", "font": "Liberation Sans", "fontSize": 20, "color": "#1e1ee0", "align": "center", "baseline": "middle"},
      "encoding": {"text": {"field": "t"}}
    },
    {
      "data": {"values": [{"t": "T", "z": -7.63, "y": 5.07}]},
      "mark": {"type": "text", "font": "Liberation Sans", "fontSize": 20, "color": "#c433ff", "align": "center", "baseline": "middle"},
      "encoding": {"text": {"field": "t"}}
    }
  ]
}
